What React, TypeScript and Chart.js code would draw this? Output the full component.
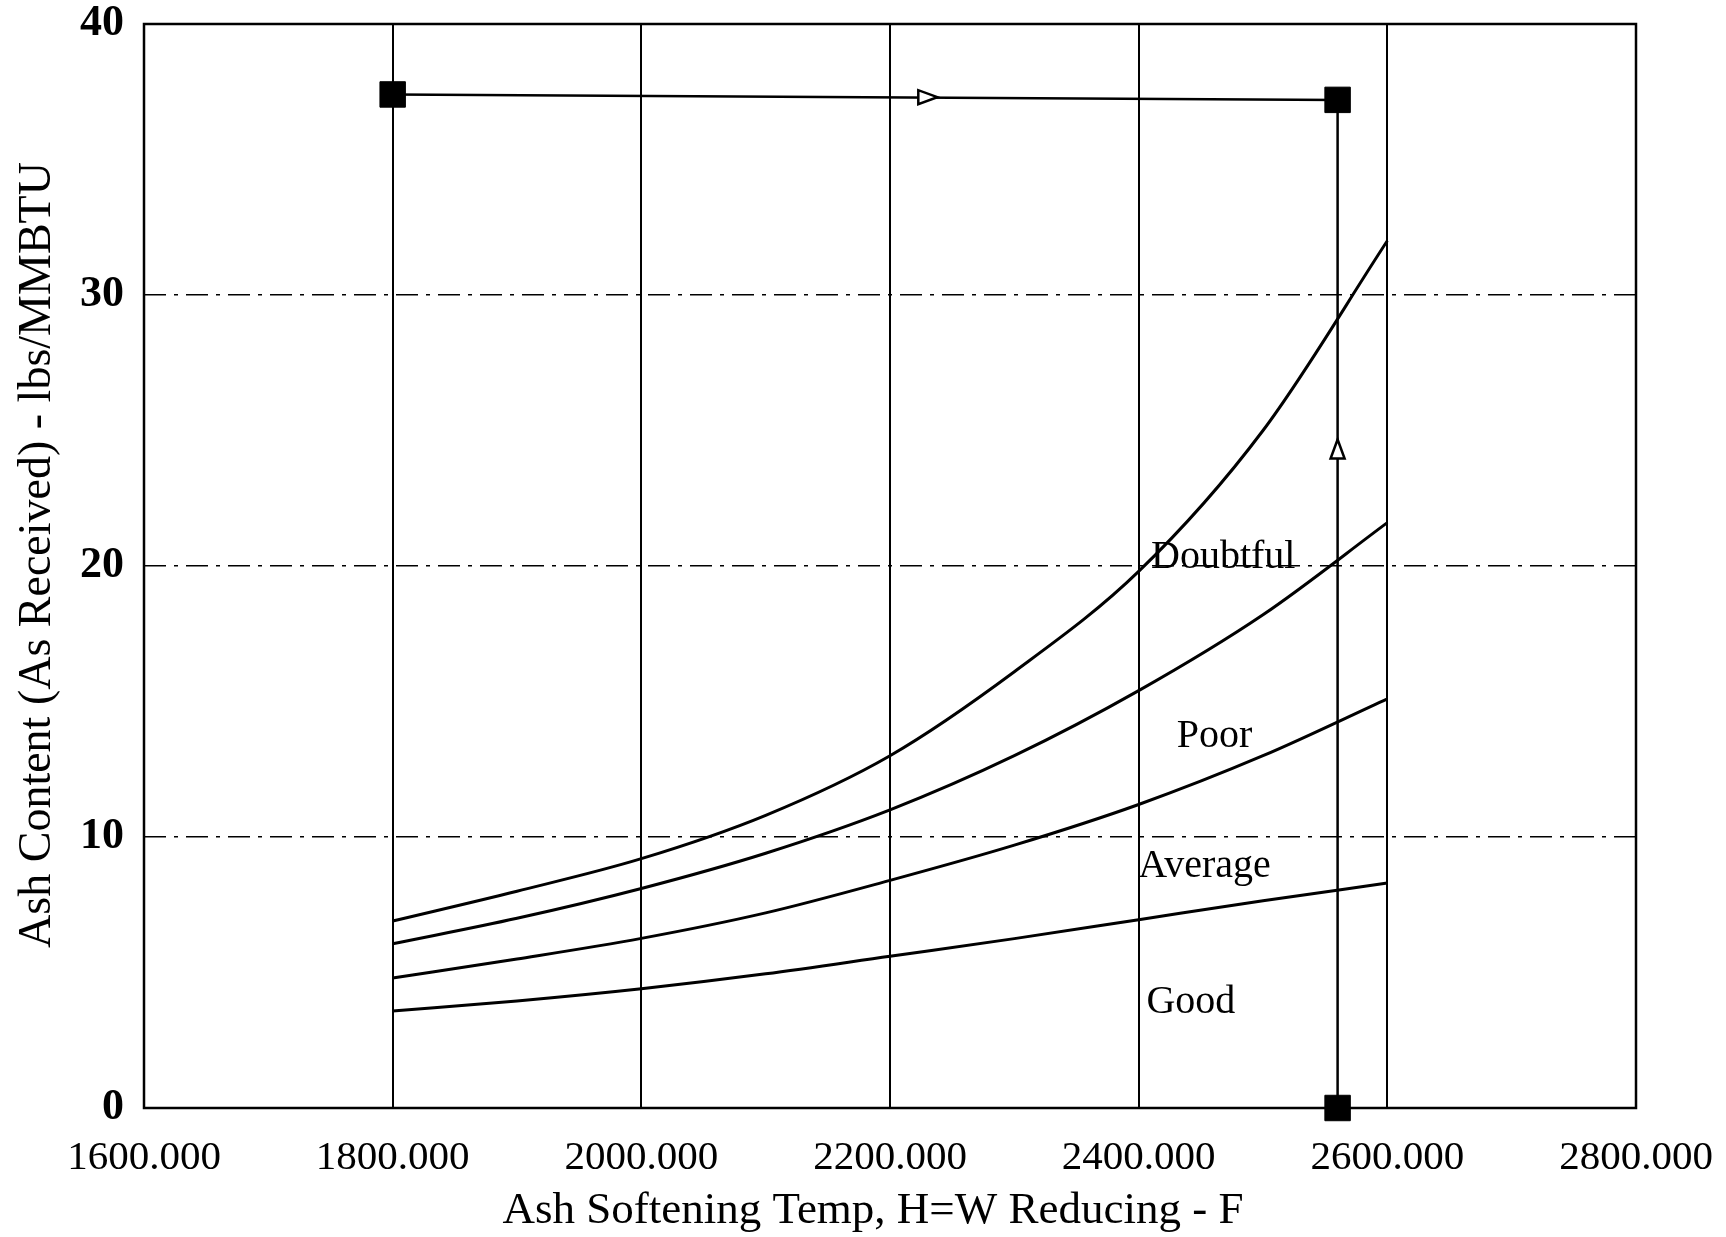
import React, { useEffect, useRef } from 'react';
import { Chart, registerables } from 'chart.js';

Chart.register(...registerables);

// Ash softening temperature (F) at which the zone boundaries were read
const temps = [1800, 1900, 2000, 2100, 2200, 2300, 2400, 2500, 2600];
// Boundary curves, ash content lbs/MMBTU
const doubtfulCurve = [6.9, 8.0, 9.2, 10.8, 13.0, 16.1, 19.8, 25.0, 32.0];
const poorCurve = [6.06, 7.0, 8.1, 9.4, 11.0, 13.0, 15.4, 18.2, 21.6];
const averageCurve = [4.8, 5.5, 6.26, 7.2, 8.4, 9.7, 11.2, 13.0, 15.1];
const goodCurve = [3.58, 3.95, 4.4, 4.95, 5.6, 6.25, 6.95, 7.65, 8.3];

// Example path with square markers
const pathX = [1800, 2560, 2560];
const pathY = [37.4, 37.2, 0];

// Arrowheads along the path
const arrowX = [2230, 2560];
const arrowY = [37.3, 24.3];
const arrowDir = ['right', 'up'];

// Zone labels
const zoneNames = ['Doubtful', 'Poor', 'Average', 'Good'];
const zoneX = [2468, 2461, 2453, 2442];
const zoneY = [20.3, 13.7, 8.9, 3.9];

// Tick labels
const xTickLabels = ['1600.000', '1800.000', '2000.000', '2200.000', '2400.000', '2600.000', '2800.000'];
const yTickLabels = ['0', '10', '20', '30', '40'];

const xTitle = 'Ash Softening Temp, H=W Reducing - F';
const yTitle = 'Ash Content (As Received) - lbs/MMBTU';

const FONT = "'Liberation Serif', 'Times New Roman', serif";

export default function App() {
  const ref = useRef<HTMLCanvasElement | null>(null);

  useEffect(() => {
    const canvas = ref.current;
    if (!canvas) return;

    const overlay = {
      id: 'overlay',
      beforeDatasetsDraw(chart: any) {
        const { ctx, chartArea } = chart;
        ctx.save();
        // plot frame
        ctx.strokeStyle = '#000';
        ctx.lineWidth = 2.5;
        ctx.setLineDash([]);
        ctx.strokeRect(chartArea.left, chartArea.top, chartArea.right - chartArea.left, chartArea.bottom - chartArea.top);
        ctx.restore();
      },
      afterDatasetsDraw(chart: any) {
        const { ctx, scales } = chart;
        const xs = scales.x;
        const ys = scales.y;
        ctx.save();
        ctx.strokeStyle = '#000';
        ctx.setLineDash([]);

        // arrows
        for (let i = 0; i < arrowX.length; i++) {
          const px = xs.getPixelForValue(arrowX[i]);
          const py = ys.getPixelForValue(arrowY[i]);
          ctx.beginPath();
          if (arrowDir[i] === 'right') {
            ctx.moveTo(px + 10, py);
            ctx.lineTo(px - 9, py - 7);
            ctx.lineTo(px - 9, py + 7);
          } else {
            ctx.moveTo(px, py - 10);
            ctx.lineTo(px - 7, py + 9);
            ctx.lineTo(px + 7, py + 9);
          }
          ctx.closePath();
          ctx.fillStyle = '#fff';
          ctx.fill();
          ctx.lineWidth = 2.5;
          ctx.stroke();
        }

        // zone labels
        ctx.fillStyle = '#000';
        ctx.font = `40px ${FONT}`;
        ctx.textAlign = 'center';
        ctx.textBaseline = 'middle';
        for (let i = 0; i < zoneNames.length; i++) {
          ctx.fillText(zoneNames[i], xs.getPixelForValue(zoneX[i]), ys.getPixelForValue(zoneY[i]));
        }

        // axis titles
        ctx.font = `45px ${FONT}`;
        ctx.fillText(xTitle, 873, 1211);
        ctx.translate(38, 555);
        ctx.rotate(-Math.PI / 2);
        ctx.font = `46px ${FONT}`;
        ctx.fillText(yTitle, 0, 0);
        ctx.restore();
      },
    };

    const curveStyle = {
      borderColor: '#000',
      borderWidth: 3,
      pointRadius: 0,
      fill: false,
      showLine: true,
      cubicInterpolationMode: 'monotone' as const,
    };

    const chart = new Chart(canvas, {
      type: 'scatter',
      data: {
        datasets: [
          { label: 'Doubtful', data: temps.map((t, i) => ({ x: t, y: doubtfulCurve[i] })), ...curveStyle },
          { label: 'Poor', data: temps.map((t, i) => ({ x: t, y: poorCurve[i] })), ...curveStyle },
          { label: 'Average', data: temps.map((t, i) => ({ x: t, y: averageCurve[i] })), ...curveStyle },
          { label: 'Good', data: temps.map((t, i) => ({ x: t, y: goodCurve[i] })), ...curveStyle },
          {
            label: 'Path',
            data: pathX.map((x, i) => ({ x, y: pathY[i] })),
            showLine: true,
            clip: false,
            borderColor: '#000',
            borderWidth: 2.5,
            pointStyle: 'rect',
            pointRadius: 18,
            pointBackgroundColor: '#000',
            pointBorderColor: '#000',
            pointBorderWidth: 1,
            tension: 0,
          },
        ],
      },
      options: {
        responsive: false,
        animation: false,
        layout: { padding: { top: 24, right: 90, left: 0, bottom: 0 } },
        plugins: { legend: { display: false }, tooltip: { enabled: false } },
        scales: {
          x: {
            type: 'linear',
            min: 1600,
            max: 2800,
            afterBuildTicks: (s: any) => {
              s.ticks = xTickLabels.map((l) => ({ value: parseFloat(l) }));
            },
            ticks: {
              autoSkip: false,
              maxRotation: 0,
              padding: 26,
              color: '#000',
              font: { family: FONT, size: 41 },
              callback: (_v: any, i: number) => xTickLabels[i],
            },
            grid: {
              drawTicks: false,
              lineWidth: 2,
              color: (c: any) => (c.tick && (c.tick.value === 1600 || c.tick.value === 2800) ? 'rgba(0,0,0,0)' : '#000'),
            },
            border: { display: false },
            afterFit: (s: any) => {
              s.height = 129;
              s.paddingLeft = 0;
              s.paddingRight = 0;
              s.paddingTop = 0;
              s.paddingBottom = 0;
            },
          },
          y: {
            type: 'linear',
            min: 0,
            max: 40,
            afterBuildTicks: (s: any) => {
              s.ticks = yTickLabels.map((l) => ({ value: parseFloat(l) }));
            },
            ticks: {
              padding: 20,
              color: '#000',
              font: { family: FONT, size: 44, weight: 'bold' },
              callback: (_v: any, i: number) => yTickLabels[i],
            },
            grid: {
              drawTicks: false,
              lineWidth: 1.5,
              color: (c: any) => (c.tick && (c.tick.value === 0 || c.tick.value === 40) ? 'rgba(0,0,0,0)' : '#000'),
            },
            border: { display: false, dash: [22, 8, 4, 8] },
            afterFit: (s: any) => {
              s.width = 144;
              s.paddingLeft = 0;
              s.paddingRight = 0;
              s.paddingTop = 0;
              s.paddingBottom = 0;
            },
          },
        },
      } as any,
      plugins: [overlay],
    });

    return () => chart.destroy();
  }, []);

  return (
    <div style={{ position: 'fixed', left: 0, top: 0, width: 1726, height: 1237, background: '#fff' }}>
      <canvas ref={ref} width={1726} height={1237} style={{ width: 1726, height: 1237, display: 'block' }} />
    </div>
  );
}
